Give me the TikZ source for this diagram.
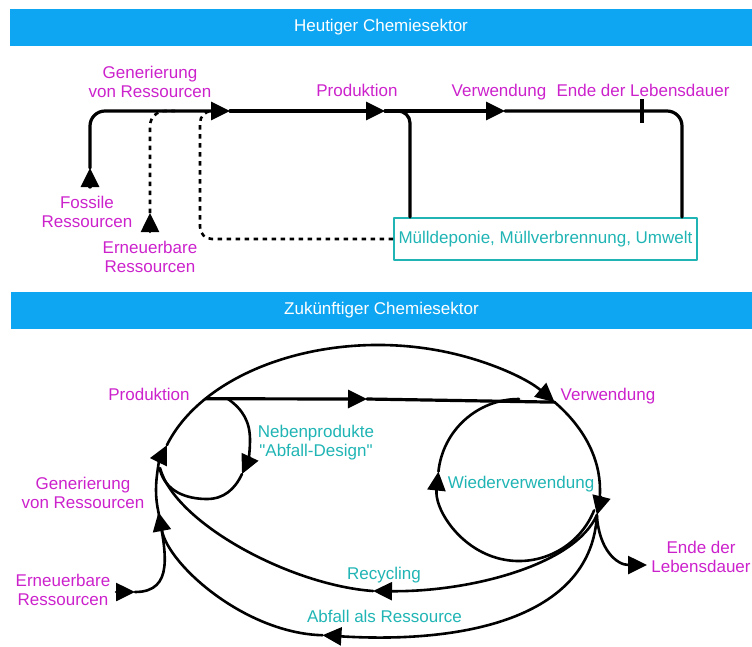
\documentclass[tikz,border=0pt]{standalone}
\usepackage{fontspec}
\newfontfamily\labfont{Liberation Sans}
\usetikzlibrary{arrows.meta,calc}
\definecolor{bannerblue}{RGB}{14,166,242}
\definecolor{labmag}{RGB}{204,34,204}
\definecolor{labteal}{RGB}{32,180,180}
\tikzset{
  lab/.style={font=\labfont\fontsize{17}{19}\selectfont,inner sep=0pt,align=center},
  labm/.style={lab,text=labmag},
  labt/.style={lab,text=labteal},
  bar/.style={fill=bannerblue,text=white,minimum width=742pt,minimum height=37pt,inner sep=0pt,font=\labfont\fontsize{17}{19}\selectfont},
  box/.style={draw=labteal,line width=2pt,text=labteal,minimum width=303pt,minimum height=42pt,inner sep=0pt,font=\labfont\fontsize{17}{19}\selectfont},
  main/.style={line width=3.2pt},
  curv/.style={line width=2.6pt},
  dotline/.style={line width=2.6pt,line cap=butt,dash pattern=on 4.5pt off 4.5pt},
  tri/.style={-{Triangle[length=19pt 0 0,width=18pt 0 0]}}
}
\begin{document}
\begin{tikzpicture}[x=1pt,y=-1pt,line join=round,line cap=round]
	\useasboundingbox (0,0) rectangle (752,646);
	% heutiger Chemiesektor
	\node[bar] (bar1) at (381,27.5) {Heutiger Chemiesektor};
	\node[box] (dep) at (545.5,239) {Mülldeponie, Müllverbrennung, Umwelt};
	\coordinate (fosA) at (90,187);
	\coordinate (fosT) at (90,168);
	\coordinate (genT) at (230,111);
	\coordinate (prodT) at (385,111);
	\coordinate (useT) at (505,111);
	\coordinate (eol) at (642,111);
	\coordinate (rgt) at (682,111);
	\coordinate (pv) at (410,111);
	\coordinate (ernA) at (150,232);
	\coordinate (ernT) at (150,213);
	\coordinate (ernJ) at (175,111);
	\coordinate (recJ) at (200,111);
	\coordinate (recE) at (214,111);
	\draw[main,tri] (fosA) -- (fosT);
	\draw[main,tri,rounded corners=15pt] (fosT) |- (genT);
	\draw[main,tri] (genT) -- (prodT);
	\draw[main,tri] (prodT) -- (useT);
	\draw[main,rounded corners=15pt] (useT) -- (rgt) -- (rgt |- dep.north);
	\draw[main,rounded corners=12pt] (prodT) -- (pv) -- (pv |- dep.north);
	\draw[line width=4pt,line cap=butt] ([yshift=12pt]eol) -- ([yshift=-12pt]eol);
	\draw[dotline,rounded corners=15pt] (ernT) |- (ernJ);
	\draw[curv,tri] (ernA) -- (ernT);
	\draw[dotline,rounded corners=12pt] (dep.west) -| (recJ) -- (recE);
	\node[labm,anchor=north] (gen) at (150,65.7) {Generierung\\von Ressourcen};
	\node[labm,anchor=base] (prod) at (357,96) {Produktion};
	\node[labm,anchor=base] (use) at (499,96) {Verwendung};
	\node[labm,anchor=base] (end) at (643,96) {Ende der Lebensdauer};
	\node[labm,anchor=north] (fos) at (87,195.7) {Fossile\\Ressourcen};
	\node[labm,anchor=north] (ern) at (150,240.7) {Erneuerbare\\Ressourcen};
	% zukuenftiger Chemiesektor
	\node[bar] (bar2) at (381.5,310) {Zukünftiger Chemiesektor};
	\coordinate (E) at (378,490);
	\coordinate (A2) at ($(E)+(171.5:222 and 150)$);
	\coordinate (A1) at ($(E)+(198:222 and 145)$);
	\coordinate (P) at ($(E)+(219:222 and 145)$);
	\coordinate (V) at ($(E)+(322.7:222 and 145)$);
	\coordinate (R) at ($(E)+(9.6:222 and 150)$);
	\coordinate (AB) at ($(E)+(104.5:222 and 150)$);
	\coordinate (M1) at (367,399);
	\coordinate (RC) at (373,591);
	\coordinate (J2) at (160,468);
	\coordinate (W) at (519,480);
	\coordinate (W0) at ($(W)+(22:81)$);
	\coordinate (WA) at ($(W)+(186:81)$);
	\coordinate (N0) at (228,399);
	\coordinate (N1) at (250,440);
	\coordinate (NT) at (242,474);
	\coordinate (NB) at (207,499);
	\coordinate (J3) at (160,470);
	\coordinate (ET) at (647,565);
	\coordinate (EA) at (116,592);
	\coordinate (ET2) at (135,592);
	\draw[curv,tri] (A2) arc[start angle=171.5,end angle=180,x radius=222,y radius=150]
		arc[start angle=180,end angle=198,x radius=222,y radius=145];
	\draw[curv,tri] (A1) arc[start angle=198,end angle=322.7,x radius=222,y radius=145];
	\draw[curv,tri] (V) arc[start angle=322.7,end angle=360,x radius=222,y radius=145]
		arc[start angle=0,end angle=9.6,x radius=222,y radius=150];
	\draw[curv,tri] (R) .. controls +(-5,100) and +(148,9) .. (AB);
	\draw[curv,tri] (AB) .. controls +(-77,-2) and +(10,53) .. (A2);
	\draw[curv,tri] (R) .. controls +(-22,50) and +(97,1) .. (RC);
	\draw[curv] (RC) .. controls +(-83,-6) and +(15,55) .. (J2);
	\draw[curv,tri] (W0) arc[start angle=22,end angle=186,radius=81];
	\draw[curv] (WA) arc[start angle=186,end angle=270,radius=81];
	\draw[main,tri] (P) -- (M1);
	\draw[main] (M1) -- (V);
	\draw[curv,tri] (N0) to[out=-35,in=90] (N1) to[out=-90,in=65] (NT);
	\draw[curv] (NT) to[out=-115,in=0] (NB) to[out=180,in=-75] (J3);
	\draw[curv,tri] (R) .. controls +(2,35) and +(-30,0) .. (ET);
	\draw[curv,tri] (EA) -- (ET2);
	\draw[curv] (ET2) .. controls +(40,0) and +(7,39) .. (A2);
	\node[labm,anchor=base] (prod2) at (149,400) {Produktion};
	\node[labm,anchor=base] (use2) at (608,400) {Verwendung};
	\node[labt,anchor=north] (neben) at (316,424.7) {Nebenprodukte\\"Abfall-Design"};
	\node[labm,anchor=north] (gen2) at (83,476.7) {Generierung\\von Ressourcen};
	\node[labm,anchor=north] (ern2) at (63,573.7) {Erneuerbare\\Ressourcen};
	\node[labt,anchor=base] (wieder) at (521,488) {Wiederverwendung};
	\node[labm,anchor=north] (end2) at (701,540.7) {Ende der\\Lebensdauer};
	\node[labt,anchor=base] (recyc) at (384,579) {Recycling};
	\node[labt,anchor=base] (abf) at (384.5,622) {Abfall als Ressource};
\end{tikzpicture}
\end{document}
